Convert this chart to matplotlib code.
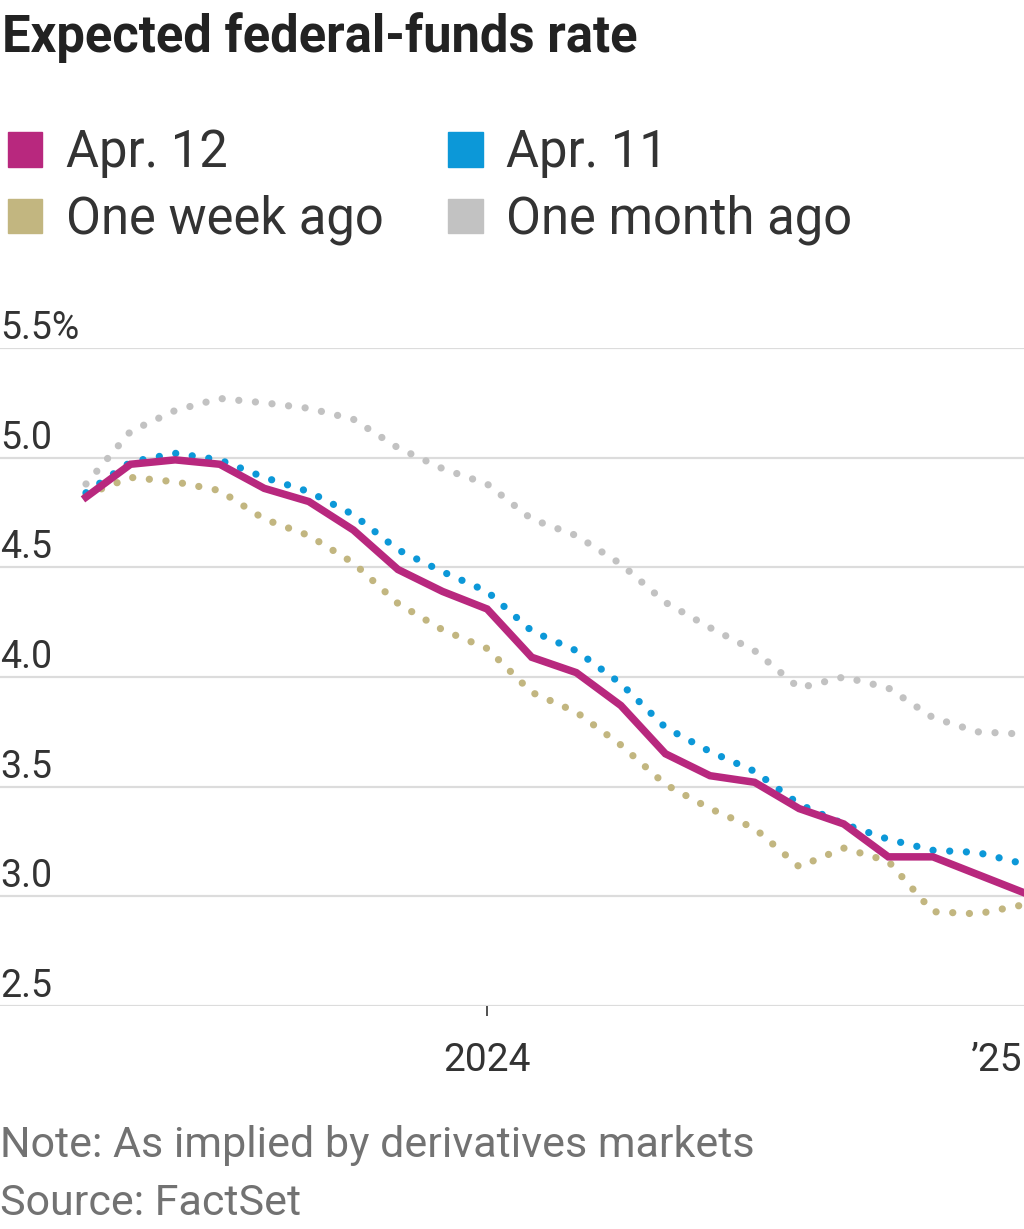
import matplotlib
matplotlib.use("Agg")
import matplotlib.pyplot as plt
import matplotlib.transforms as mtransforms
from matplotlib.patches import Patch
import numpy as np
import pandas as pd

plt.rcParams['font.family'] = ['Liberation Sans Narrow', 'Roboto', 'DejaVu Sans']

# monthly contract dates, Apr 2023 .. Jan 2025
months = pd.date_range('2023-04-01', '2025-01-01', freq='MS')

apr12 = [4.82, 4.97, 4.99, 4.97, 4.86, 4.80, 4.67, 4.49, 4.39, 4.31, 4.09,
         4.02, 3.87, 3.65, 3.55, 3.52, 3.40, 3.33, 3.18, 3.18, 3.10, 3.02]
apr11 = [4.84, 4.98, 5.02, 4.99, 4.91, 4.845, 4.74, 4.58, 4.48, 4.39, 4.21,
         4.12, 3.97, 3.77, 3.66, 3.57, 3.42, 3.33, 3.26, 3.21, 3.20, 3.15]
week_ago = [4.83, 4.91, 4.89, 4.85, 4.72, 4.645, 4.52, 4.335, 4.215, 4.13, 3.93,
            3.84, 3.69, 3.51, 3.40, 3.31, 3.135, 3.22, 3.16, 2.93, 2.92, 2.96]
month_ago = [4.88, 5.12, 5.215, 5.27, 5.25, 5.225, 5.175, 5.045, 4.95, 4.88, 4.72,
             4.645, 4.515, 4.34, 4.225, 4.12, 3.95, 4.00, 3.95, 3.815, 3.75, 3.74]

y_ticks = [2.5, 3.0, 3.5, 4.0, 4.5, 5.0, 5.5]
y_labels = ['2.5', '3.0', '3.5', '4.0', '4.5', '5.0', '5.5%']
x_tick_months = ['2024-01-01', '2025-01-01']
x_labels = ['2024', '\u201925']

c_apr12 = '#b8287e'
c_apr11 = '#0c98d8'
c_week = '#c2b680'
c_month = '#c2c2c2'
c_text = '#333333'

# x as months since Apr 2023
x = (months.year - 2023) * 12 + months.month - 4
xt = [(pd.Timestamp(d).year - 2023) * 12 + pd.Timestamp(d).month - 4 for d in x_tick_months]

fig = plt.figure(figsize=(10.24, 12.29), dpi=100)
ax = fig.add_axes([0, 1 - 1006 / 1229, 1, (1006 - 348) / 1229])

dot = (0, (0.01, 2.3))
ax.plot(x, month_ago, color=c_month, lw=5.2, ls=dot, dash_capstyle='round', zorder=2)
ax.plot(x, week_ago, color=c_week, lw=5.2, ls=dot, dash_capstyle='round', zorder=3)
ax.plot(x, apr11, color=c_apr11, lw=5.2, ls=dot, dash_capstyle='round', zorder=4)
ax.plot(x, apr12, color=c_apr12, lw=5.4, solid_joinstyle='miter', zorder=5)

ax.set_xlim(-86 / 44.58, 21 + 2 / 44.58)
ax.set_ylim(2.5, 5.5)

# gridlines
for v in y_ticks:
    ax.axhline(v, color='#dcdcdc', lw=1.6, zorder=1)
ax.set_yticks([])
for s in ax.spines.values():
    s.set_visible(False)

# y labels sit above their gridlines at the left edge
trans = mtransforms.blended_transform_factory(ax.transAxes, ax.transData)
for v, lbl in zip(y_ticks, y_labels):
    ax.annotate(lbl, xy=(0, v), xycoords=trans, xytext=(0, 1), textcoords='offset pixels',
                ha='left', va='bottom', fontsize=27, color=c_text)

ax.set_xticks(xt)
ax.set_xticklabels(x_labels, fontsize=28, color=c_text)
ax.tick_params(axis='x', length=7, width=1.2, color='#333333', pad=19)
ax.xaxis.get_major_ticks()[1].tick1line.set_visible(False)
ax.get_xticklabels()[1].set_horizontalalignment('right')

fig.text(0.002, 1 - 52 / 1229, 'Expected federal-funds rate', fontsize=36.5, fontweight='bold',
         color='#222222', va='baseline', ha='left')

handles = [Patch(color=c_apr12), Patch(color=c_week), Patch(color=c_apr11), Patch(color=c_month)]
labels = ['Apr. 12', 'One week ago', 'Apr. 11', 'One month ago']
fig.legend(handles, labels, ncol=2, loc='upper left', bbox_to_anchor=(8 / 1024, 1 - 128 / 1229),
           frameon=False, fontsize=36.5, handlelength=0.68, handleheight=0.68,
           handletextpad=0.46, columnspacing=1.28, labelspacing=0.33, labelcolor=c_text,
           borderaxespad=0, borderpad=0)

fig.text(0.0, 1 - 1157 / 1229, 'Note: As implied by derivatives markets', fontsize=31,
         color='#727272', va='baseline', ha='left')
fig.text(0.0, 1 - 1215 / 1229, 'Source: FactSet', fontsize=31,
         color='#727272', va='baseline', ha='left')

fig.savefig('out.png', dpi=100)
